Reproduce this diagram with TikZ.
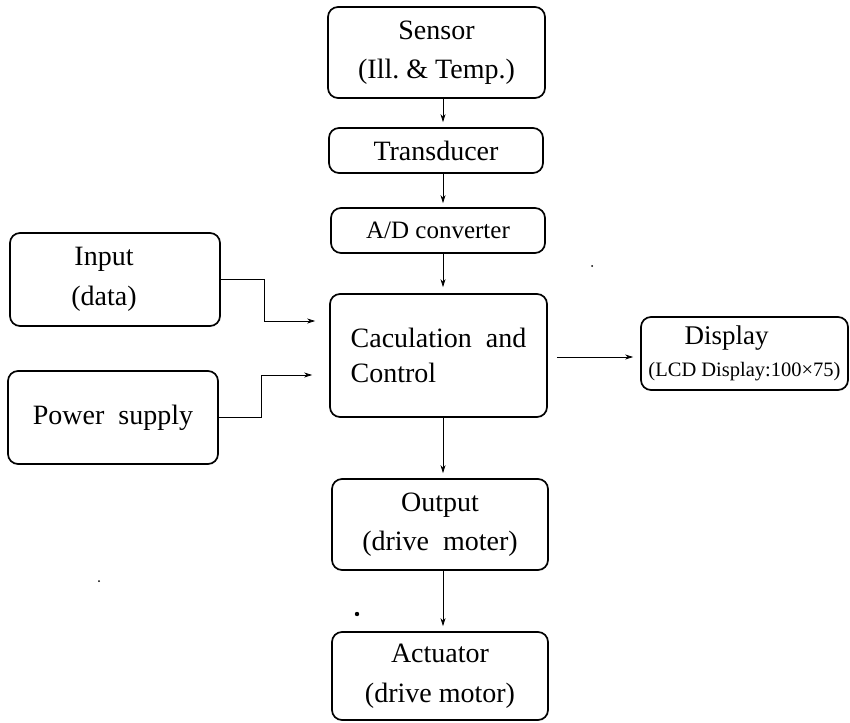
\documentclass[tikz,border=0pt]{standalone}
\usepackage{fontspec}
\setmainfont{Liberation Serif}
\usetikzlibrary{arrows.meta}
\begin{document}
\begin{tikzpicture}[x=1pt,y=-1pt,
  blk/.style={draw, line width=1.7pt, rounded corners=10pt, inner sep=0pt, align=center,
              font=\fontsize{28}{39}\selectfont},
  arr/.style={line width=0.8pt, -{Stealth[length=8pt,width=5pt]}},
  speck/.style={fill=black}
]
\useasboundingbox (0,0) rectangle (850,722);

\node[blk, minimum width=217pt, minimum height=91pt] (sensor) at (436.5,52.5) {Sensor\\(Ill.\ \& Temp.)};
\node[blk, minimum width=214pt, minimum height=45pt] (trans) at (436,150.5) {Transducer};
\node[blk, minimum width=214pt, minimum height=45pt, font=\fontsize{25}{30}\selectfont] (ad) at (438,230.5) {A/D converter};
\node[blk, minimum width=217pt, minimum height=123pt, align=left, font=\fontsize{28}{35}\selectfont] (calc) at (438.5,355.5) {Caculation\ \ and\\Control};
\node[blk, minimum width=210pt, minimum height=93pt, font=\fontsize{28}{40}\selectfont] (input) at (115,279.5) {\hspace*{-22pt}Input\\\hspace*{-22pt}(data)};
\node[blk, minimum width=210pt, minimum height=93pt] (power) at (113,417.5) {Power\ \ supply};
\node[blk, minimum width=207pt, minimum height=73pt, font=\fontsize{20.5}{32}\selectfont] (display) at (744.5,353.5) {\hspace*{-36pt}{\fontsize{27}{32}\selectfont Display}\\(LCD Display:100×75)};
\node[blk, minimum width=216pt, minimum height=91pt] (output) at (440,524.5) {Output\\(drive\ \ moter)};
\node[blk, minimum width=216pt, minimum height=88pt, font=\fontsize{28}{40}\selectfont] (actuator) at (440,676) {Actuator\\(drive motor)};

\coordinate (vx) at (443,0);
\coordinate (hy) at (0,357);
\coordinate (j1) at (264,321);
\coordinate (j2) at (261,375);

\draw[arr, shorten >=5pt] (sensor.south -| vx) -- (trans.north -| vx);
\draw[arr, shorten >=4pt] (trans.south -| vx) -- (ad.north -| vx);
\draw[arr, shorten >=6pt] (ad.south -| vx) -- (calc.north -| vx);
\draw[arr, shorten >=5pt] (calc.south -| vx) -- (output.north -| vx);
\draw[arr, shorten >=5pt] (output.south -| vx) -- (actuator.north -| vx);
\draw[arr, shorten <=9pt, shorten >=7pt] (calc.east |- hy) -- (display.west |- hy);
\draw[arr, shorten >=14pt] (input.east) -| (j1) -- (j1 -| calc.west);
\draw[arr, shorten >=17pt] (power.east) -| (j2) -- (j2 -| calc.west);

\fill[speck] (592,266) circle (1pt);
\fill[speck] (99,581) circle (1pt);
\fill[speck] (357,614) circle (2.2pt);
\end{tikzpicture}
\end{document}
